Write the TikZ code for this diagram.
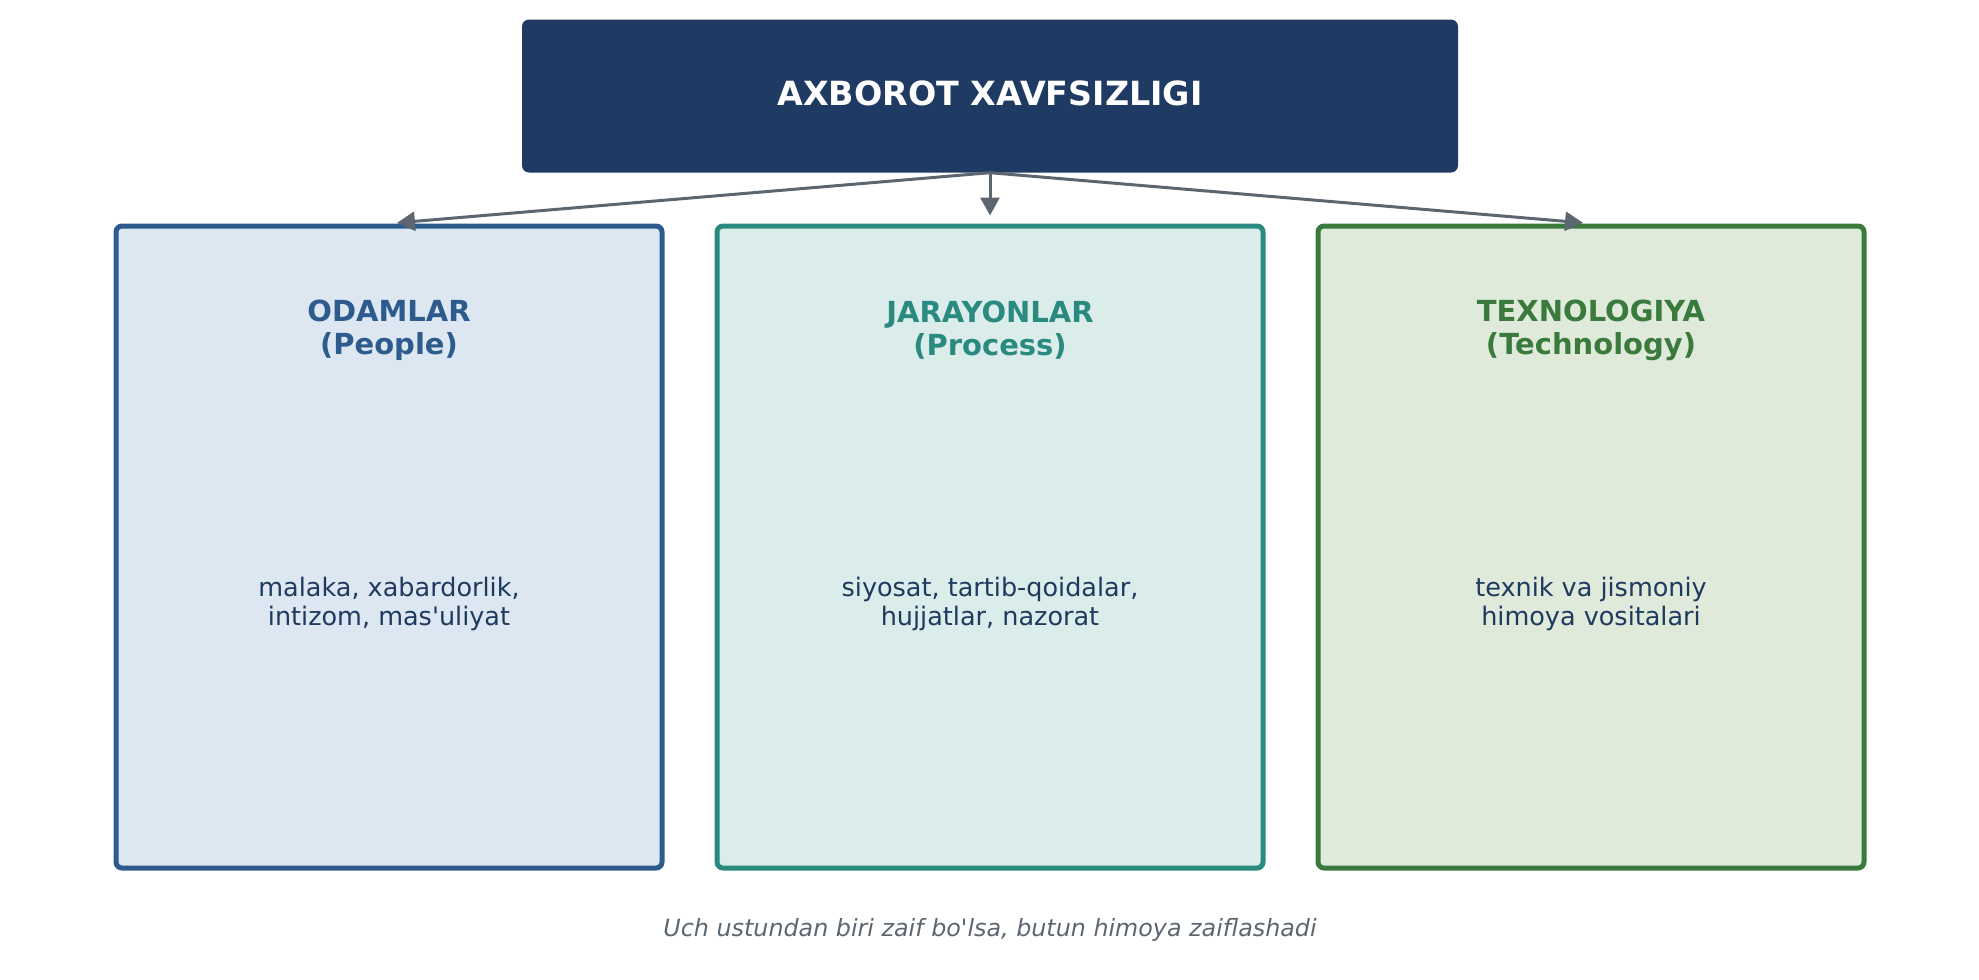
\documentclass[tikz,border=0pt]{standalone}
\usepackage{fontspec}
\setmainfont{DejaVu Sans}[Ligatures=TeXOff]
\usetikzlibrary{arrows.meta}
\definecolor{navy}{HTML}{203B63}
\definecolor{arrgray}{HTML}{5C6670}
\definecolor{bluebd}{HTML}{2E5B8E}
\definecolor{bluefill}{HTML}{DDE7F1}
\definecolor{tealbd}{HTML}{2B8A80}
\definecolor{tealfill}{HTML}{DBEDEA}
\definecolor{greenbd}{HTML}{3A7A3C}
\definecolor{greenfill}{HTML}{DFEADB}
\definecolor{bodytext}{HTML}{1E3A5F}
\tikzset{
  pillar/.style={draw, line width=5pt, rounded corners=6pt, minimum width=546pt, minimum height=642pt, inner sep=0pt},
  ptitle/.style={font=\fontsize{29}{33}\selectfont\bfseries, align=center, inner sep=0pt},
  pbody/.style={font=\fontsize{25.5}{29}\selectfont, text=bodytext, align=center, inner sep=0pt},
  conn/.style={draw=arrgray, line width=3pt, shorten >=8pt, -{Triangle[length=18pt,width=19pt]}},
}
\begin{document}
\begin{tikzpicture}[x=1pt,y=-1pt]
\useasboundingbox (0,0) rectangle (1979,980);
\node[fill=navy, rounded corners=7pt, minimum width=936pt, minimum height=153pt, inner sep=0pt] (top) at (990,96) {};
\node[text=white, font=\fontsize{33.3}{38}\selectfont\bfseries, inner sep=0pt] (topt) at (990,93) {AXBOROT XAVFSIZLIGI};

\node[pillar, draw=bluebd, fill=bluefill] (ppl) at (389,547) {};
\node[pillar, draw=tealbd, fill=tealfill] (prc) at (990,547) {};
\node[pillar, draw=greenbd, fill=greenfill] (tec) at (1591,547) {};

\node[ptitle, text=bluebd] (pplt) at (389,330.5) {ODAMLAR\\(People)};
\node[ptitle, text=tealbd] (prct) at (990,330.5) {JARAYONLAR\\(Process)};
\node[ptitle, text=greenbd] (tect) at (1591,330.5) {TEXNOLOGIYA\\(Technology)};

\node[pbody] (pplb) at (389,603.5) {malaka, xabardorlik,\\intizom, mas'uliyat};
\node[pbody] (prcb) at (990,603.5) {siyosat, tartib-qoidalar,\\hujjatlar, nazorat};
\node[pbody] (tecb) at (1591,603.5) {texnik va jismoniy\\himoya vositalari};

\draw[conn] (top.south) -- (ppl.north);
\draw[conn] (top.south) -- (prc.north);
\draw[conn] (top.south) -- (tec.north);

\node[text=arrgray, font=\fontsize{23.8}{28}\selectfont\itshape, inner sep=0pt] (cap) at (990,930) {Uch ustundan biri zaif bo'lsa, butun himoya zaiflashadi};
\end{tikzpicture}
\end{document}
